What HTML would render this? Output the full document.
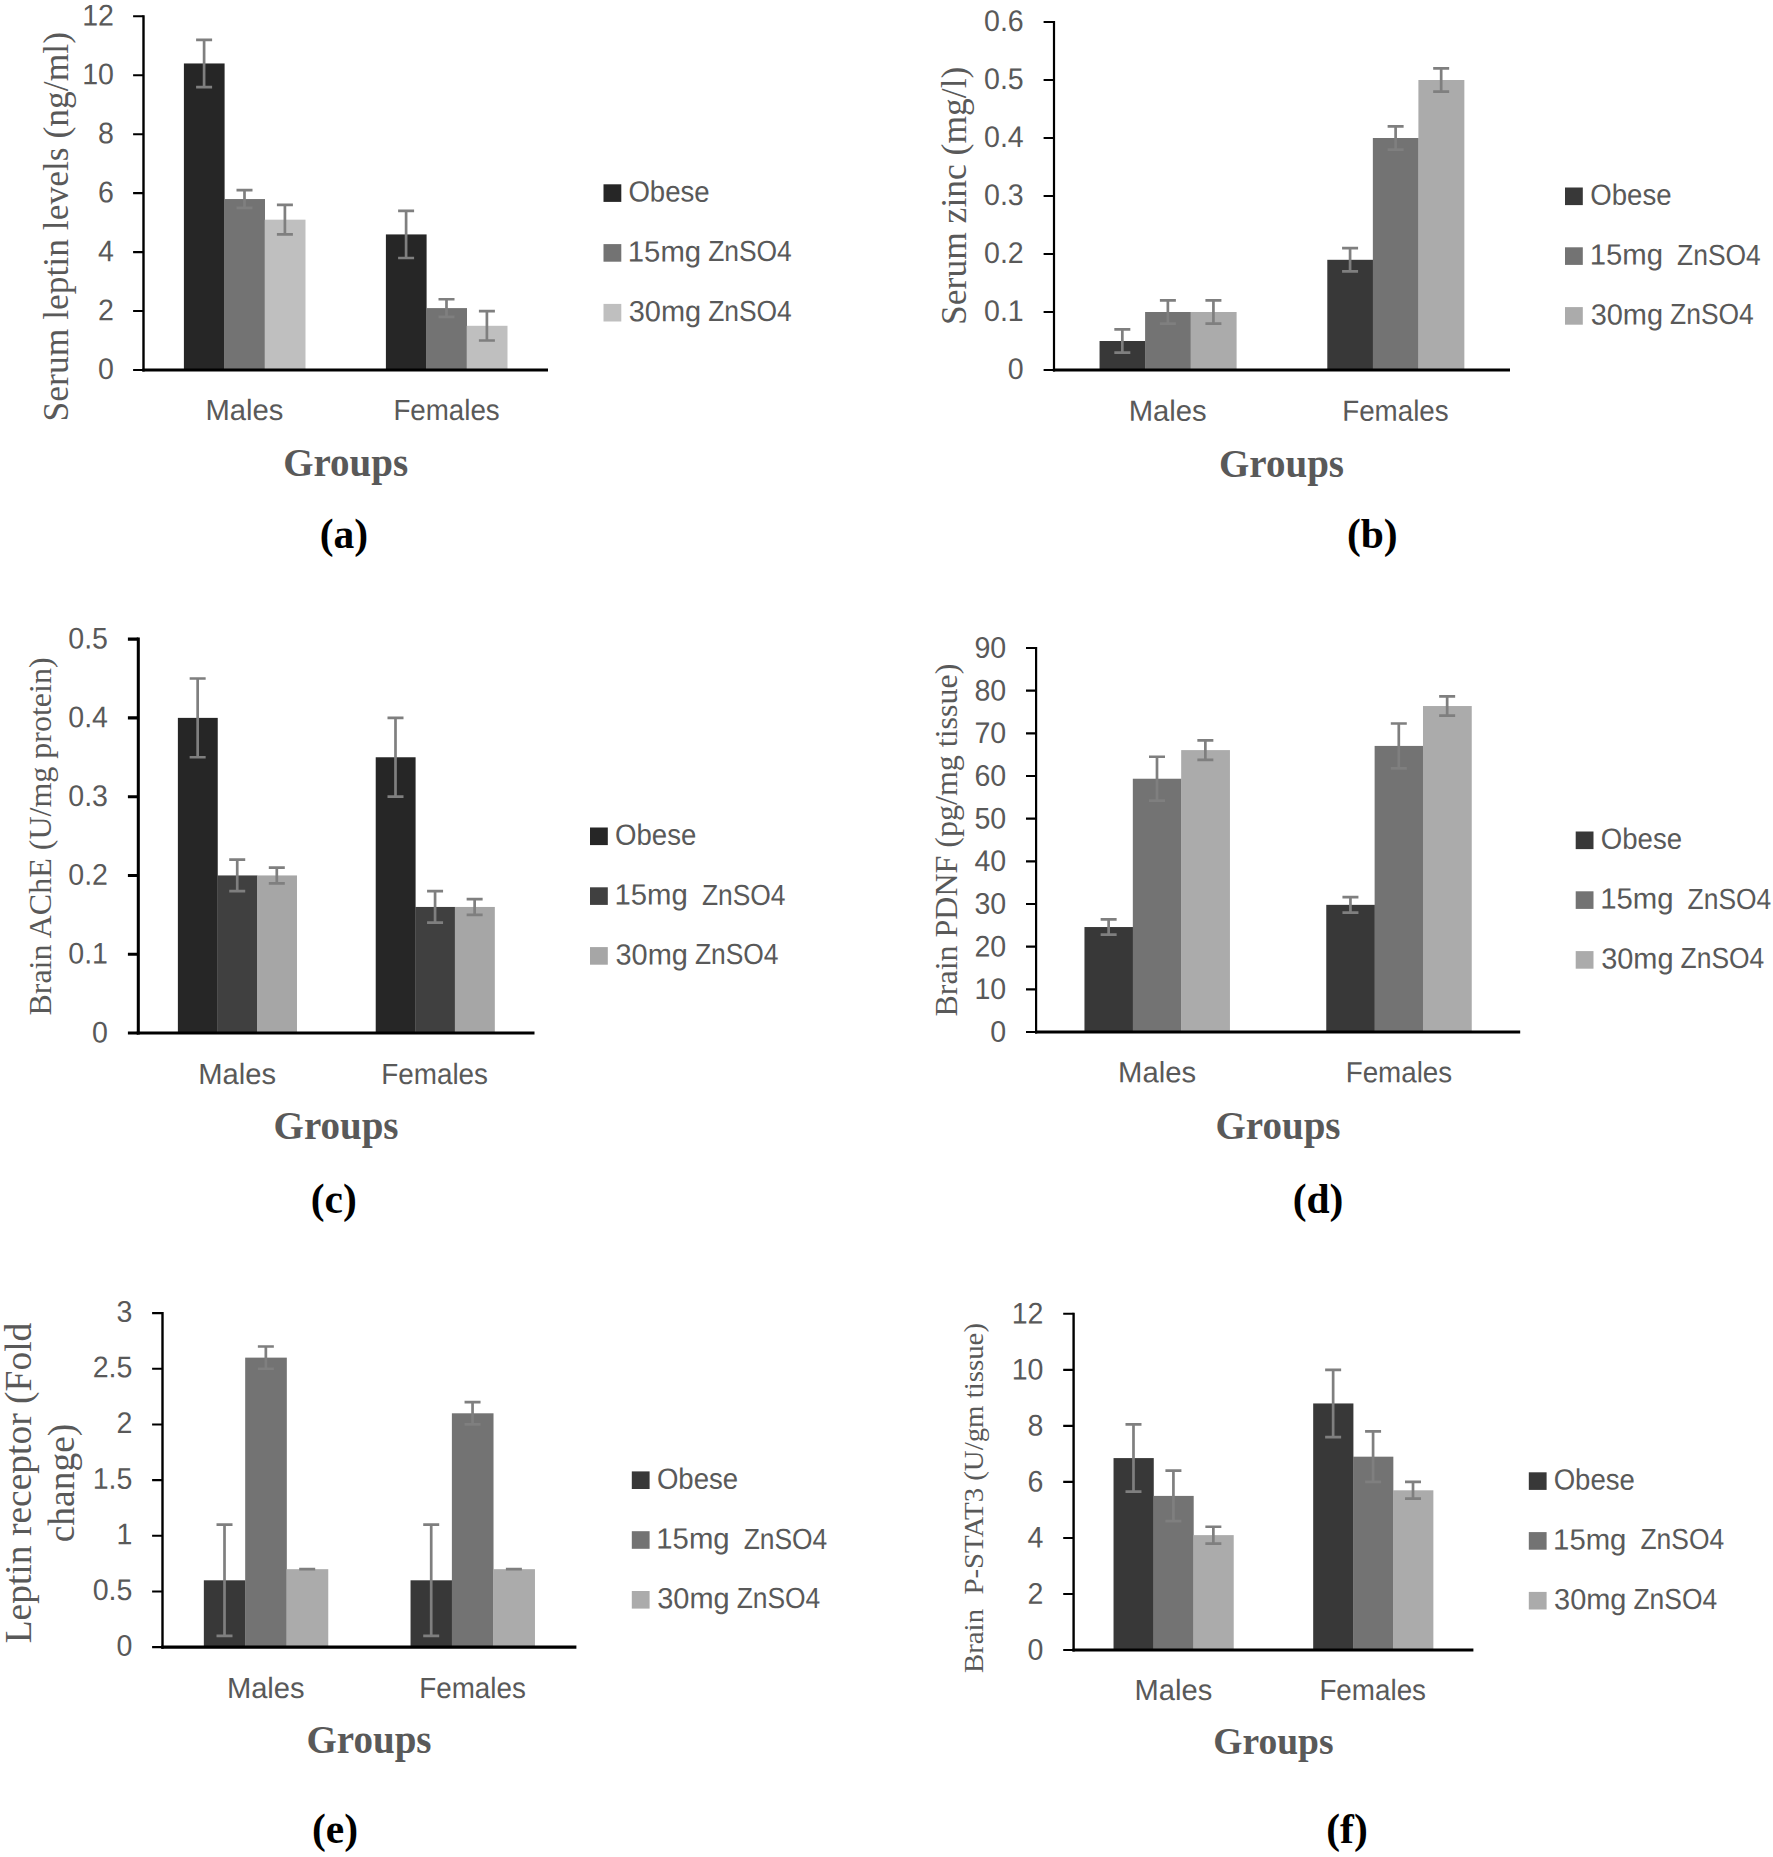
<!DOCTYPE html>
<html><head><meta charset="utf-8"><title>Figure</title>
<style>
html,body{margin:0;padding:0;background:#fff}
svg{display:block}
.s{font-family:"Liberation Sans", sans-serif;font-size:29.8px;fill:#595959}
.t{font-size:29.2px}
.u{font-size:29.2px}
.b{font-family:"Liberation Serif", serif;font-weight:bold}
.r{font-family:"Liberation Serif", serif;fill:#595959}
</style></head><body>
<svg width="1773" height="1857" viewBox="0 0 1773 1857">
<rect width="1773" height="1857" fill="#fff"/>
<g><rect x="183.9" y="63.46" width="40.7" height="306.54" fill="#262626"/>
<rect x="224.3" y="199.05" width="40.7" height="170.95" fill="#737373"/>
<rect x="264.7" y="219.68" width="40.8" height="150.32" fill="#bfbfbf"/>
<rect x="385.9" y="234.42" width="40.7" height="135.58" fill="#262626"/>
<rect x="426.3" y="308.1" width="40.7" height="61.9" fill="#737373"/>
<rect x="466.7" y="325.79" width="40.8" height="44.21" fill="#bfbfbf"/>
<path d="M196.1 39.88H212.1M204.1 39.88V87.04M196.1 87.04H212.1" stroke="#7f7f7f" stroke-width="2.7" fill="none"/>
<path d="M236.5 190.2H252.5M244.5 190.2V207.89M236.5 207.89H252.5" stroke="#7f7f7f" stroke-width="2.7" fill="none"/>
<path d="M276.9 204.94H292.9M284.9 204.94V234.42M276.9 234.42H292.9" stroke="#7f7f7f" stroke-width="2.7" fill="none"/>
<path d="M398.1 210.84H414.1M406.1 210.84V258M398.1 258H414.1" stroke="#7f7f7f" stroke-width="2.7" fill="none"/>
<path d="M438.5 299.26H454.5M446.5 299.26V316.94M438.5 316.94H454.5" stroke="#7f7f7f" stroke-width="2.7" fill="none"/>
<path d="M478.9 311.05H494.9M486.9 311.05V340.52M478.9 340.52H494.9" stroke="#7f7f7f" stroke-width="2.7" fill="none"/>
<path d="M133.1 370H143.5M133.1 311.05H143.5M133.1 252.1H143.5M133.1 193.15H143.5M133.1 134.2H143.5M133.1 75.25H143.5M133.1 16.3H143.5" stroke="#000" stroke-width="2.1" fill="none"/>
<path d="M143.5 15.25V371.6" stroke="#000" stroke-width="2.4" fill="none"/>
<path d="M142.3 370H548" stroke="#000" stroke-width="3.2" fill="none"/>
<text transform="translate(113.9 379.1) rotate(.03) scale(0.958 1)" text-anchor="end" class="s">0</text>
<text transform="translate(113.9 320.15) rotate(.03) scale(0.958 1)" text-anchor="end" class="s">2</text>
<text transform="translate(113.9 261.2) rotate(.03) scale(0.958 1)" text-anchor="end" class="s">4</text>
<text transform="translate(113.9 202.25) rotate(.03) scale(0.958 1)" text-anchor="end" class="s">6</text>
<text transform="translate(113.9 143.3) rotate(.03) scale(0.958 1)" text-anchor="end" class="s">8</text>
<text transform="translate(113.9 84.35) rotate(.03) scale(0.958 1)" text-anchor="end" class="s">10</text>
<text transform="translate(113.9 25.4) rotate(.03) scale(0.958 1)" text-anchor="end" class="s">12</text>
<text x="205.4" y="420" transform="rotate(.03 205.4 420)" class="s t" textLength="77.9" lengthAdjust="spacingAndGlyphs">Males</text>
<text x="393.4" y="420" transform="rotate(.03 393.4 420)" class="s t" textLength="106.3" lengthAdjust="spacingAndGlyphs">Females</text>
<text x="345.65" y="476" class="b" font-size="39" fill="#595959" text-anchor="middle">Groups</text>
<text x="343.85" y="548" class="b" font-size="41.5" fill="#000" text-anchor="middle">(a)</text>
<text transform="translate(68.3 226.7) rotate(-90)" class="r" font-size="35.5" text-anchor="middle" style="white-space:pre">Serum leptin levels (ng/ml)</text>
<rect x="603.5" y="184.3" width="17.8" height="17.6" fill="#262626"/>
<text y="201.6" transform="rotate(.03 629.6 201.6)" class="s u" style="white-space:pre"><tspan x="628.4" textLength="81.2" lengthAdjust="spacingAndGlyphs">Obese</tspan></text>
<rect x="603.5" y="244.1" width="17.8" height="17.6" fill="#737373"/>
<text y="261.4" transform="rotate(.03 629.6 261.4)" class="s u" style="white-space:pre"><tspan x="627.8" textLength="73.3" lengthAdjust="spacingAndGlyphs">15mg</tspan><tspan> </tspan><tspan x="708.2" textLength="83.6" lengthAdjust="spacingAndGlyphs">ZnSO4</tspan></text>
<rect x="603.5" y="303.9" width="17.8" height="17.6" fill="#bfbfbf"/>
<text y="321.2" transform="rotate(.03 629.6 321.2)" class="s u" style="white-space:pre"><tspan x="628.8" textLength="72.3" lengthAdjust="spacingAndGlyphs">30mg</tspan><tspan> </tspan><tspan x="708.2" textLength="83.6" lengthAdjust="spacingAndGlyphs">ZnSO4</tspan></text></g>
<g><rect x="1099.55" y="341" width="45.85" height="29" fill="#383838"/>
<rect x="1145.1" y="312" width="45.85" height="58" fill="#737373"/>
<rect x="1190.65" y="312" width="45.95" height="58" fill="#ababab"/>
<rect x="1327.3" y="259.8" width="45.85" height="110.2" fill="#383838"/>
<rect x="1372.85" y="138" width="45.85" height="232" fill="#737373"/>
<rect x="1418.4" y="80" width="45.95" height="290" fill="#ababab"/>
<path d="M1114.33 329.4H1130.33M1122.33 329.4V352.6M1114.33 352.6H1130.33" stroke="#7f7f7f" stroke-width="2.7" fill="none"/>
<path d="M1159.88 300.4H1175.88M1167.88 300.4V323.6M1159.88 323.6H1175.88" stroke="#7f7f7f" stroke-width="2.7" fill="none"/>
<path d="M1205.42 300.4H1221.42M1213.42 300.4V323.6M1205.42 323.6H1221.42" stroke="#7f7f7f" stroke-width="2.7" fill="none"/>
<path d="M1342.08 248.2H1358.08M1350.08 248.2V271.4M1342.08 271.4H1358.08" stroke="#7f7f7f" stroke-width="2.7" fill="none"/>
<path d="M1387.62 126.4H1403.62M1395.62 126.4V149.6M1387.62 149.6H1403.62" stroke="#7f7f7f" stroke-width="2.7" fill="none"/>
<path d="M1433.17 68.4H1449.17M1441.17 68.4V91.6M1433.17 91.6H1449.17" stroke="#7f7f7f" stroke-width="2.7" fill="none"/>
<path d="M1043.6 370H1054M1043.6 312H1054M1043.6 254H1054M1043.6 196H1054M1043.6 138H1054M1043.6 80H1054M1043.6 22H1054" stroke="#000" stroke-width="2.1" fill="none"/>
<path d="M1054 20.95V371.6" stroke="#000" stroke-width="2.2" fill="none"/>
<path d="M1052.9 370H1510" stroke="#000" stroke-width="3.2" fill="none"/>
<text transform="translate(1023.7 378.9) rotate(.03) scale(0.958 1)" text-anchor="end" class="s">0</text>
<text transform="translate(1023.7 320.9) rotate(.03) scale(0.958 1)" text-anchor="end" class="s">0.1</text>
<text transform="translate(1023.7 262.9) rotate(.03) scale(0.958 1)" text-anchor="end" class="s">0.2</text>
<text transform="translate(1023.7 204.9) rotate(.03) scale(0.958 1)" text-anchor="end" class="s">0.3</text>
<text transform="translate(1023.7 146.9) rotate(.03) scale(0.958 1)" text-anchor="end" class="s">0.4</text>
<text transform="translate(1023.7 88.9) rotate(.03) scale(0.958 1)" text-anchor="end" class="s">0.5</text>
<text transform="translate(1023.7 30.9) rotate(.03) scale(0.958 1)" text-anchor="end" class="s">0.6</text>
<text x="1128.7" y="420.8" transform="rotate(.03 1128.7 420.8)" class="s t" textLength="78" lengthAdjust="spacingAndGlyphs">Males</text>
<text x="1342.2" y="420.8" transform="rotate(.03 1342.2 420.8)" class="s t" textLength="106.5" lengthAdjust="spacingAndGlyphs">Females</text>
<text x="1281.5" y="476.7" class="b" font-size="39" fill="#595959" text-anchor="middle">Groups</text>
<text x="1372.3" y="548.1" class="b" font-size="41.5" fill="#000" text-anchor="middle">(b)</text>
<text transform="translate(965.9 195.8) rotate(-90)" class="r" font-size="35.5" text-anchor="middle" style="white-space:pre">Serum zinc (mg/l)</text>
<rect x="1565" y="187.5" width="17.8" height="17.6" fill="#383838"/>
<text y="204.8" transform="rotate(.03 1591.5 204.8)" class="s u" style="white-space:pre"><tspan x="1590.3" textLength="81.2" lengthAdjust="spacingAndGlyphs">Obese</tspan></text>
<rect x="1565" y="247.3" width="17.8" height="17.6" fill="#737373"/>
<text y="264.6" transform="rotate(.03 1591.5 264.6)" class="s u" style="white-space:pre"><tspan x="1589.7" textLength="73.3" lengthAdjust="spacingAndGlyphs">15mg</tspan><tspan>  </tspan><tspan x="1677.1" textLength="83.6" lengthAdjust="spacingAndGlyphs">ZnSO4</tspan></text>
<rect x="1565" y="307.1" width="17.8" height="17.6" fill="#ababab"/>
<text y="324.4" transform="rotate(.03 1591.5 324.4)" class="s u" style="white-space:pre"><tspan x="1590.7" textLength="72.3" lengthAdjust="spacingAndGlyphs">30mg</tspan><tspan> </tspan><tspan x="1670.1" textLength="83.6" lengthAdjust="spacingAndGlyphs">ZnSO4</tspan></text></g>
<g><rect x="177.87" y="717.88" width="39.87" height="315.12" fill="#262626"/>
<rect x="217.44" y="875.44" width="39.87" height="157.56" fill="#404040"/>
<rect x="257.01" y="875.44" width="39.97" height="157.56" fill="#a6a6a6"/>
<rect x="375.72" y="757.27" width="39.87" height="275.73" fill="#262626"/>
<rect x="415.29" y="906.95" width="39.87" height="126.05" fill="#404040"/>
<rect x="454.86" y="906.95" width="39.97" height="126.05" fill="#a6a6a6"/>
<path d="M189.66 678.49H205.66M197.66 678.49V757.27M189.66 757.27H205.66" stroke="#7f7f7f" stroke-width="2.7" fill="none"/>
<path d="M229.23 859.68H245.23M237.23 859.68V891.2M229.23 891.2H245.23" stroke="#7f7f7f" stroke-width="2.7" fill="none"/>
<path d="M268.8 867.56H284.8M276.8 867.56V883.32M268.8 883.32H284.8" stroke="#7f7f7f" stroke-width="2.7" fill="none"/>
<path d="M387.5 717.88H403.5M395.5 717.88V796.66M387.5 796.66H403.5" stroke="#7f7f7f" stroke-width="2.7" fill="none"/>
<path d="M427.07 891.2H443.07M435.07 891.2V922.71M427.07 922.71H443.07" stroke="#7f7f7f" stroke-width="2.7" fill="none"/>
<path d="M466.64 899.07H482.64M474.64 899.07V914.83M466.64 914.83H482.64" stroke="#7f7f7f" stroke-width="2.7" fill="none"/>
<path d="M127.9 1033H138.3M127.9 954.22H138.3M127.9 875.44H138.3M127.9 796.66H138.3M127.9 717.88H138.3M127.9 639.1H138.3" stroke="#000" stroke-width="3.05" fill="none"/>
<path d="M138.3 637.58V1034.53" stroke="#000" stroke-width="3.05" fill="none"/>
<path d="M136.78 1033H534.5" stroke="#000" stroke-width="3.05" fill="none"/>
<text transform="translate(108 1042.4) rotate(.03) scale(0.958 1)" text-anchor="end" class="s">0</text>
<text transform="translate(108 963.62) rotate(.03) scale(0.958 1)" text-anchor="end" class="s">0.1</text>
<text transform="translate(108 884.84) rotate(.03) scale(0.958 1)" text-anchor="end" class="s">0.2</text>
<text transform="translate(108 806.06) rotate(.03) scale(0.958 1)" text-anchor="end" class="s">0.3</text>
<text transform="translate(108 727.28) rotate(.03) scale(0.958 1)" text-anchor="end" class="s">0.4</text>
<text transform="translate(108 648.5) rotate(.03) scale(0.958 1)" text-anchor="end" class="s">0.5</text>
<text x="198.2" y="1084" transform="rotate(.03 198.2 1084)" class="s t" textLength="77.8" lengthAdjust="spacingAndGlyphs">Males</text>
<text x="381.3" y="1084" transform="rotate(.03 381.3 1084)" class="s t" textLength="106.7" lengthAdjust="spacingAndGlyphs">Females</text>
<text x="336.05" y="1138.6" class="b" font-size="39" fill="#595959" text-anchor="middle">Groups</text>
<text x="333.8" y="1213.2" class="b" font-size="41.5" fill="#000" text-anchor="middle">(c)</text>
<text transform="translate(50.7 836.5) rotate(-90)" class="r" font-size="32" text-anchor="middle" style="white-space:pre">Brain AChE (U/mg protein)</text>
<rect x="590" y="827.5" width="17.8" height="17.6" fill="#262626"/>
<text y="844.8" transform="rotate(.03 616.3 844.8)" class="s u" style="white-space:pre"><tspan x="615.1" textLength="81.2" lengthAdjust="spacingAndGlyphs">Obese</tspan></text>
<rect x="590" y="887.3" width="17.8" height="17.6" fill="#404040"/>
<text y="904.6" transform="rotate(.03 616.3 904.6)" class="s u" style="white-space:pre"><tspan x="614.5" textLength="73.3" lengthAdjust="spacingAndGlyphs">15mg</tspan><tspan>  </tspan><tspan x="701.9" textLength="83.6" lengthAdjust="spacingAndGlyphs">ZnSO4</tspan></text>
<rect x="590" y="947.1" width="17.8" height="17.6" fill="#a6a6a6"/>
<text y="964.4" transform="rotate(.03 616.3 964.4)" class="s u" style="white-space:pre"><tspan x="615.5" textLength="72.3" lengthAdjust="spacingAndGlyphs">30mg</tspan><tspan> </tspan><tspan x="694.9" textLength="83.6" lengthAdjust="spacingAndGlyphs">ZnSO4</tspan></text></g>
<g><rect x="1084.46" y="927.04" width="48.66" height="104.96" fill="#383838"/>
<rect x="1132.82" y="778.73" width="48.66" height="253.27" fill="#737373"/>
<rect x="1181.18" y="750.1" width="48.76" height="281.9" fill="#ababab"/>
<rect x="1326.26" y="904.85" width="48.66" height="127.15" fill="#383838"/>
<rect x="1374.62" y="745.92" width="48.66" height="286.08" fill="#737373"/>
<rect x="1422.98" y="706.03" width="48.76" height="325.97" fill="#ababab"/>
<path d="M1100.64 919.36H1116.64M1108.64 919.36V934.72M1100.64 934.72H1116.64" stroke="#7f7f7f" stroke-width="2.7" fill="none"/>
<path d="M1149 756.76H1165M1157 756.76V800.7M1149 800.7H1165" stroke="#7f7f7f" stroke-width="2.7" fill="none"/>
<path d="M1197.36 740.29H1213.36M1205.36 740.29V759.91M1197.36 759.91H1213.36" stroke="#7f7f7f" stroke-width="2.7" fill="none"/>
<path d="M1342.44 897.17H1358.44M1350.44 897.17V912.53M1342.44 912.53H1358.44" stroke="#7f7f7f" stroke-width="2.7" fill="none"/>
<path d="M1390.8 723.52H1406.8M1398.8 723.52V768.32M1390.8 768.32H1406.8" stroke="#7f7f7f" stroke-width="2.7" fill="none"/>
<path d="M1439.16 696.43H1455.16M1447.16 696.43V715.63M1439.16 715.63H1455.16" stroke="#7f7f7f" stroke-width="2.7" fill="none"/>
<path d="M1026 1032H1036.1M1026 989.33H1036.1M1026 946.67H1036.1M1026 904H1036.1M1026 861.33H1036.1M1026 818.67H1036.1M1026 776H1036.1M1026 733.33H1036.1M1026 690.67H1036.1M1026 648H1036.1" stroke="#000" stroke-width="2.1" fill="none"/>
<path d="M1036.1 646.95V1033.6" stroke="#000" stroke-width="2.2" fill="none"/>
<path d="M1035 1032H1520.2" stroke="#000" stroke-width="3.2" fill="none"/>
<text transform="translate(1006.2 1041.8) rotate(.03) scale(0.958 1)" text-anchor="end" class="s">0</text>
<text transform="translate(1006.2 999.13) rotate(.03) scale(0.958 1)" text-anchor="end" class="s">10</text>
<text transform="translate(1006.2 956.47) rotate(.03) scale(0.958 1)" text-anchor="end" class="s">20</text>
<text transform="translate(1006.2 913.8) rotate(.03) scale(0.958 1)" text-anchor="end" class="s">30</text>
<text transform="translate(1006.2 871.13) rotate(.03) scale(0.958 1)" text-anchor="end" class="s">40</text>
<text transform="translate(1006.2 828.47) rotate(.03) scale(0.958 1)" text-anchor="end" class="s">50</text>
<text transform="translate(1006.2 785.8) rotate(.03) scale(0.958 1)" text-anchor="end" class="s">60</text>
<text transform="translate(1006.2 743.13) rotate(.03) scale(0.958 1)" text-anchor="end" class="s">70</text>
<text transform="translate(1006.2 700.47) rotate(.03) scale(0.958 1)" text-anchor="end" class="s">80</text>
<text transform="translate(1006.2 657.8) rotate(.03) scale(0.958 1)" text-anchor="end" class="s">90</text>
<text x="1118.1" y="1082.2" transform="rotate(.03 1118.1 1082.2)" class="s t" textLength="77.9" lengthAdjust="spacingAndGlyphs">Males</text>
<text x="1345.7" y="1082.2" transform="rotate(.03 1345.7 1082.2)" class="s t" textLength="106.5" lengthAdjust="spacingAndGlyphs">Females</text>
<text x="1278" y="1138.7" class="b" font-size="39" fill="#595959" text-anchor="middle">Groups</text>
<text x="1318" y="1213.1" class="b" font-size="41.5" fill="#000" text-anchor="middle">(d)</text>
<text transform="translate(957.3 840.1) rotate(-90)" class="r" font-size="32" text-anchor="middle" style="white-space:pre">Brain PDNF (pg/mg tissue)</text>
<rect x="1575.7" y="831.5" width="17.8" height="17.6" fill="#383838"/>
<text y="848.8" transform="rotate(.03 1602 848.8)" class="s u" style="white-space:pre"><tspan x="1600.8" textLength="81.2" lengthAdjust="spacingAndGlyphs">Obese</tspan></text>
<rect x="1575.7" y="891.3" width="17.8" height="17.6" fill="#737373"/>
<text y="908.6" transform="rotate(.03 1602 908.6)" class="s u" style="white-space:pre"><tspan x="1600.2" textLength="73.3" lengthAdjust="spacingAndGlyphs">15mg</tspan><tspan>  </tspan><tspan x="1687.6" textLength="83.6" lengthAdjust="spacingAndGlyphs">ZnSO4</tspan></text>
<rect x="1575.7" y="951.1" width="17.8" height="17.6" fill="#ababab"/>
<text y="968.4" transform="rotate(.03 1602 968.4)" class="s u" style="white-space:pre"><tspan x="1601.2" textLength="72.3" lengthAdjust="spacingAndGlyphs">30mg</tspan><tspan> </tspan><tspan x="1680.6" textLength="83.6" lengthAdjust="spacingAndGlyphs">ZnSO4</tspan></text></g>
<g><rect x="203.84" y="1580.3" width="41.64" height="66.8" fill="#383838"/>
<rect x="245.18" y="1357.63" width="41.64" height="289.47" fill="#737373"/>
<rect x="286.52" y="1569.17" width="41.74" height="77.93" fill="#ababab"/>
<rect x="410.54" y="1580.3" width="41.64" height="66.8" fill="#383838"/>
<rect x="451.88" y="1413.3" width="41.64" height="233.8" fill="#737373"/>
<rect x="493.22" y="1569.17" width="41.74" height="77.93" fill="#ababab"/>
<path d="M216.51 1524.63H232.51M224.51 1524.63V1635.97M216.51 1635.97H232.51" stroke="#7f7f7f" stroke-width="2.7" fill="none"/>
<path d="M257.85 1346.5H273.85M265.85 1346.5V1368.77M257.85 1368.77H273.85" stroke="#7f7f7f" stroke-width="2.7" fill="none"/>
<path d="M299.19 1569.17H315.19M307.19 1569.17V1569.17M299.19 1569.17H315.19" stroke="#7f7f7f" stroke-width="2.7" fill="none"/>
<path d="M423.21 1524.63H439.21M431.21 1524.63V1635.97M423.21 1635.97H439.21" stroke="#7f7f7f" stroke-width="2.7" fill="none"/>
<path d="M464.55 1402.17H480.55M472.55 1402.17V1424.43M464.55 1424.43H480.55" stroke="#7f7f7f" stroke-width="2.7" fill="none"/>
<path d="M505.89 1569.17H521.89M513.89 1569.17V1569.17M505.89 1569.17H521.89" stroke="#7f7f7f" stroke-width="2.7" fill="none"/>
<path d="M152.1 1647.1H162.5M152.1 1591.43H162.5M152.1 1535.77H162.5M152.1 1480.1H162.5M152.1 1424.43H162.5M152.1 1368.77H162.5M152.1 1313.1H162.5" stroke="#000" stroke-width="2.1" fill="none"/>
<path d="M162.5 1312.05V1648.7" stroke="#000" stroke-width="2.4" fill="none"/>
<path d="M161.3 1647.1H576.4" stroke="#000" stroke-width="3.2" fill="none"/>
<text transform="translate(132.4 1655.7) rotate(.03) scale(0.958 1)" text-anchor="end" class="s">0</text>
<text transform="translate(132.4 1600.03) rotate(.03) scale(0.958 1)" text-anchor="end" class="s">0.5</text>
<text transform="translate(132.4 1544.37) rotate(.03) scale(0.958 1)" text-anchor="end" class="s">1</text>
<text transform="translate(132.4 1488.7) rotate(.03) scale(0.958 1)" text-anchor="end" class="s">1.5</text>
<text transform="translate(132.4 1433.03) rotate(.03) scale(0.958 1)" text-anchor="end" class="s">2</text>
<text transform="translate(132.4 1377.37) rotate(.03) scale(0.958 1)" text-anchor="end" class="s">2.5</text>
<text transform="translate(132.4 1321.7) rotate(.03) scale(0.958 1)" text-anchor="end" class="s">3</text>
<text x="226.9" y="1698" transform="rotate(.03 226.9 1698)" class="s t" textLength="77.7" lengthAdjust="spacingAndGlyphs">Males</text>
<text x="419.2" y="1698" transform="rotate(.03 419.2 1698)" class="s t" textLength="106.6" lengthAdjust="spacingAndGlyphs">Females</text>
<text x="369" y="1753" class="b" font-size="39" fill="#595959" text-anchor="middle">Groups</text>
<text x="335" y="1843.3" class="b" font-size="41.5" fill="#000" text-anchor="middle">(e)</text>
<text transform="translate(30.6 1483) rotate(-90)" class="r" font-size="37.5" text-anchor="middle" style="white-space:pre">Leptin receptor (Fold</text>
<text transform="translate(73.6 1483) rotate(-90)" class="r" font-size="37.5" text-anchor="middle" style="white-space:pre">change)</text>
<rect x="631.8" y="1471.4" width="17.8" height="17.6" fill="#383838"/>
<text y="1488.7" transform="rotate(.03 658.1 1488.7)" class="s u" style="white-space:pre"><tspan x="656.9" textLength="81.2" lengthAdjust="spacingAndGlyphs">Obese</tspan></text>
<rect x="631.8" y="1531.2" width="17.8" height="17.6" fill="#737373"/>
<text y="1548.5" transform="rotate(.03 658.1 1548.5)" class="s u" style="white-space:pre"><tspan x="656.3" textLength="73.3" lengthAdjust="spacingAndGlyphs">15mg</tspan><tspan>  </tspan><tspan x="743.7" textLength="83.6" lengthAdjust="spacingAndGlyphs">ZnSO4</tspan></text>
<rect x="631.8" y="1591" width="17.8" height="17.6" fill="#ababab"/>
<text y="1608.3" transform="rotate(.03 658.1 1608.3)" class="s u" style="white-space:pre"><tspan x="657.3" textLength="72.3" lengthAdjust="spacingAndGlyphs">30mg</tspan><tspan> </tspan><tspan x="736.7" textLength="83.6" lengthAdjust="spacingAndGlyphs">ZnSO4</tspan></text></g>
<g><rect x="1113.53" y="1458.09" width="40.23" height="191.91" fill="#383838"/>
<rect x="1153.46" y="1495.91" width="40.23" height="154.09" fill="#737373"/>
<rect x="1193.39" y="1535.13" width="40.33" height="114.87" fill="#ababab"/>
<rect x="1313.18" y="1403.45" width="40.23" height="246.55" fill="#383838"/>
<rect x="1353.11" y="1456.68" width="40.23" height="193.32" fill="#737373"/>
<rect x="1393.04" y="1490.31" width="40.33" height="159.69" fill="#ababab"/>
<path d="M1125.49 1424.47H1141.49M1133.49 1424.47V1491.71M1125.49 1491.71H1141.49" stroke="#7f7f7f" stroke-width="2.7" fill="none"/>
<path d="M1165.42 1470.69H1181.42M1173.42 1470.69V1521.12M1165.42 1521.12H1181.42" stroke="#7f7f7f" stroke-width="2.7" fill="none"/>
<path d="M1205.36 1526.73H1221.36M1213.36 1526.73V1543.54M1205.36 1543.54H1221.36" stroke="#7f7f7f" stroke-width="2.7" fill="none"/>
<path d="M1325.14 1369.83H1341.14M1333.14 1369.83V1437.07M1325.14 1437.07H1341.14" stroke="#7f7f7f" stroke-width="2.7" fill="none"/>
<path d="M1365.08 1431.47H1381.08M1373.08 1431.47V1481.9M1365.08 1481.9H1381.08" stroke="#7f7f7f" stroke-width="2.7" fill="none"/>
<path d="M1405.01 1481.9H1421.01M1413.01 1481.9V1498.71M1405.01 1498.71H1421.01" stroke="#7f7f7f" stroke-width="2.7" fill="none"/>
<path d="M1063.2 1650H1073.6M1063.2 1593.97H1073.6M1063.2 1537.93H1073.6M1063.2 1481.9H1073.6M1063.2 1425.87H1073.6M1063.2 1369.83H1073.6M1063.2 1313.8H1073.6" stroke="#000" stroke-width="2.1" fill="none"/>
<path d="M1073.6 1312.75V1651.6" stroke="#000" stroke-width="2.4" fill="none"/>
<path d="M1072.4 1650H1473.4" stroke="#000" stroke-width="3.2" fill="none"/>
<text transform="translate(1043.5 1659.7) rotate(.03) scale(0.958 1)" text-anchor="end" class="s">0</text>
<text transform="translate(1043.5 1603.67) rotate(.03) scale(0.958 1)" text-anchor="end" class="s">2</text>
<text transform="translate(1043.5 1547.63) rotate(.03) scale(0.958 1)" text-anchor="end" class="s">4</text>
<text transform="translate(1043.5 1491.6) rotate(.03) scale(0.958 1)" text-anchor="end" class="s">6</text>
<text transform="translate(1043.5 1435.57) rotate(.03) scale(0.958 1)" text-anchor="end" class="s">8</text>
<text transform="translate(1043.5 1379.53) rotate(.03) scale(0.958 1)" text-anchor="end" class="s">10</text>
<text transform="translate(1043.5 1323.5) rotate(.03) scale(0.958 1)" text-anchor="end" class="s">12</text>
<text x="1134.6" y="1700" transform="rotate(.03 1134.6 1700)" class="s t" textLength="77.6" lengthAdjust="spacingAndGlyphs">Males</text>
<text x="1319.4" y="1700" transform="rotate(.03 1319.4 1700)" class="s t" textLength="106.6" lengthAdjust="spacingAndGlyphs">Females</text>
<text x="1273.4" y="1754" class="b" font-size="37.5" fill="#595959" text-anchor="middle">Groups</text>
<text x="1347" y="1843.3" class="b" font-size="41.5" fill="#000" text-anchor="middle">(f)</text>
<text transform="translate(983.4 1498) rotate(-90)" class="r" font-size="28" text-anchor="middle" textLength="350" lengthAdjust="spacingAndGlyphs" style="white-space:pre">Brain  P-STAT3 (U/gm tissue)</text>
<rect x="1528.8" y="1472.3" width="17.8" height="17.6" fill="#383838"/>
<text y="1489.6" transform="rotate(.03 1554.9 1489.6)" class="s u" style="white-space:pre"><tspan x="1553.7" textLength="81.2" lengthAdjust="spacingAndGlyphs">Obese</tspan></text>
<rect x="1528.8" y="1532.1" width="17.8" height="17.6" fill="#737373"/>
<text y="1549.4" transform="rotate(.03 1554.9 1549.4)" class="s u" style="white-space:pre"><tspan x="1553.1" textLength="73.3" lengthAdjust="spacingAndGlyphs">15mg</tspan><tspan>  </tspan><tspan x="1640.5" textLength="83.6" lengthAdjust="spacingAndGlyphs">ZnSO4</tspan></text>
<rect x="1528.8" y="1591.9" width="17.8" height="17.6" fill="#ababab"/>
<text y="1609.2" transform="rotate(.03 1554.9 1609.2)" class="s u" style="white-space:pre"><tspan x="1554.1" textLength="72.3" lengthAdjust="spacingAndGlyphs">30mg</tspan><tspan> </tspan><tspan x="1633.5" textLength="83.6" lengthAdjust="spacingAndGlyphs">ZnSO4</tspan></text></g>
</svg>
</body></html>
